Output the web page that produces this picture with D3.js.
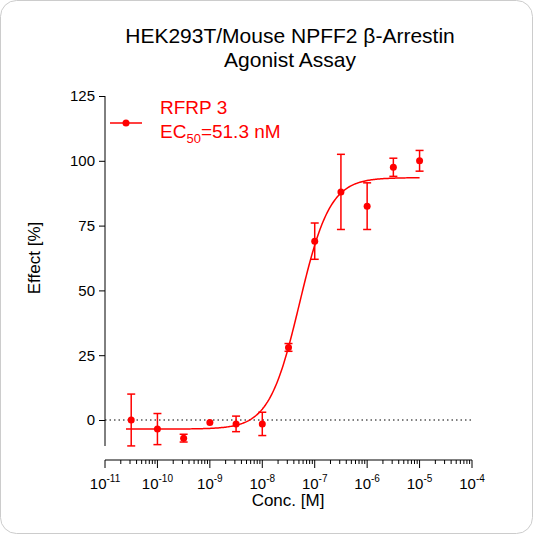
<!DOCTYPE html>
<html><head><meta charset="utf-8">
<script src="https://cdn.jsdelivr.net/npm/d3@7"></script>
<style>body{margin:0;background:#fff;font-family:"Liberation Sans",Arial,sans-serif}</style>
</head><body>
<svg width="533" height="534"></svg>
<script>
// data
const logConc = [-10.5, -10, -9.5, -9, -8.5, -8, -7.5, -7, -6.5, -6, -5.5, -5];
const effect  = [0, -3.5, -7, -1, -1.5, -1.5, 28, 69, 88, 82.5, 97.5, 100];
const errBars = [10, 6, 1.5, 0, 3, 4.5, 1.5, 7, 14.5, 9, 3.5, 4];
const fitBottom = -3.5, fitTop = 93.5, logEC50 = Math.log10(51.3e-9), hill = 1.5;
const yTicks = [0, 25, 50, 75, 100, 125];
const xDecades = [-11, -10, -9, -8, -7, -6, -5, -4];

const svg = d3.select("svg");
const red = "#f00";

svg.append("rect").attr("x", 0.5).attr("y", 0.5).attr("width", 532).attr("height", 533)
  .attr("rx", 16).attr("fill", "#fff").attr("stroke", "#ccc");

const x = d3.scaleLinear().domain([-11, -4]).range([105, 472]);
const y = d3.scaleLinear().domain([0, 125]).range([420, 96]);

// title
svg.append("text").attr("x", 290).attr("y", 43).attr("text-anchor", "middle")
  .style("font-size", "21px").text("HEK293T/Mouse NPFF2 β-Arrestin");
svg.append("text").attr("x", 290).attr("y", 67).attr("text-anchor", "middle")
  .style("font-size", "21px").text("Agonist Assay");

// y axis
const gy = svg.append("g").attr("transform", "translate(105,0)")
  .call(d3.axisLeft(y).tickValues(yTicks).tickSize(6).tickPadding(4));
gy.select(".domain").attr("d", "M0," + y(125) + "V446");
gy.selectAll("text").style("font-size", "15px").style("font-family", "inherit");

// x axis
const gx = svg.append("g").attr("transform", "translate(0,460)");
gx.append("line").attr("x1", x(-11)).attr("x2", x(-4)).attr("stroke", "#000");
const minors = [];
xDecades.slice(0, -1).forEach(d => { for (let k = 2; k < 10; k++) minors.push(d + Math.log10(k)); });
gx.selectAll(".mn").data(minors).join("line")
  .attr("x1", d => x(d)).attr("x2", d => x(d)).attr("y2", 4).attr("stroke", "#000");
gx.selectAll(".mj").data(xDecades).join("line")
  .attr("x1", d => x(d)).attr("x2", d => x(d)).attr("y2", 8).attr("stroke", "#000");
const lab = gx.selectAll(".lb").data(xDecades).join("text")
  .attr("x", d => x(d)).attr("y", 29).attr("text-anchor", "middle").style("font-size", "15px");
lab.append("tspan").text("10");
lab.append("tspan").attr("dy", -7).style("font-size", "10px").text(d => d);

svg.append("text").attr("x", 288).attr("y", 506).attr("text-anchor", "middle")
  .style("font-size", "17px").text("Conc. [M]");
svg.append("text").attr("transform", "translate(40,258) rotate(-90)").attr("text-anchor", "middle")
  .style("font-size", "17px").text("Effect  [%]");

// zero line
svg.append("line").attr("x1", 105).attr("x2", 472).attr("y1", y(0)).attr("y2", y(0))
  .attr("stroke", "#000").attr("stroke-dasharray", "1.5,3");

// fit curve
const curveX = d3.range(-10.6, -4.99, 0.02);
const fit = lx => fitBottom + (fitTop - fitBottom) / (1 + Math.pow(10, (logEC50 - lx) * hill));
svg.append("path").datum(curveX)
  .attr("d", d3.line().x(d => x(d)).y(d => y(fit(d))))
  .attr("fill", "none").attr("stroke", red).attr("stroke-width", 1.5);

// error bars and points
const pts = logConc.map((c, i) => ({c, v: effect[i], e: errBars[i]}));
const eb = svg.append("g").attr("stroke", red).attr("stroke-width", 1.5);
pts.filter(d => d.e > 0).forEach(d => {
  eb.append("line").attr("x1", x(d.c)).attr("x2", x(d.c)).attr("y1", y(d.v - d.e)).attr("y2", y(d.v + d.e));
  [d.v - d.e, d.v + d.e].forEach(v => eb.append("line")
    .attr("x1", x(d.c) - 4).attr("x2", x(d.c) + 4).attr("y1", y(v)).attr("y2", y(v)));
});
svg.selectAll(".pt").data(pts).join("circle")
  .attr("cx", d => x(d.c)).attr("cy", d => y(d.v)).attr("r", 3.5).attr("fill", red);

// legend
svg.append("line").attr("x1", 110).attr("x2", 142).attr("y1", 123).attr("y2", 123)
  .attr("stroke", red).attr("stroke-width", 1.5);
svg.append("circle").attr("cx", 126).attr("cy", 123).attr("r", 3.5).attr("fill", red);
svg.append("text").attr("x", 160).attr("y", 114).attr("fill", red).style("font-size", "19px").text("RFRP 3");
const t2 = svg.append("text").attr("x", 160).attr("y", 138).attr("fill", red).style("font-size", "19px");
t2.append("tspan").text("EC");
t2.append("tspan").attr("dy", 5).style("font-size", "13px").text("50");
t2.append("tspan").attr("dy", -5).text("=51.3 nM");
</script>
</body></html>
